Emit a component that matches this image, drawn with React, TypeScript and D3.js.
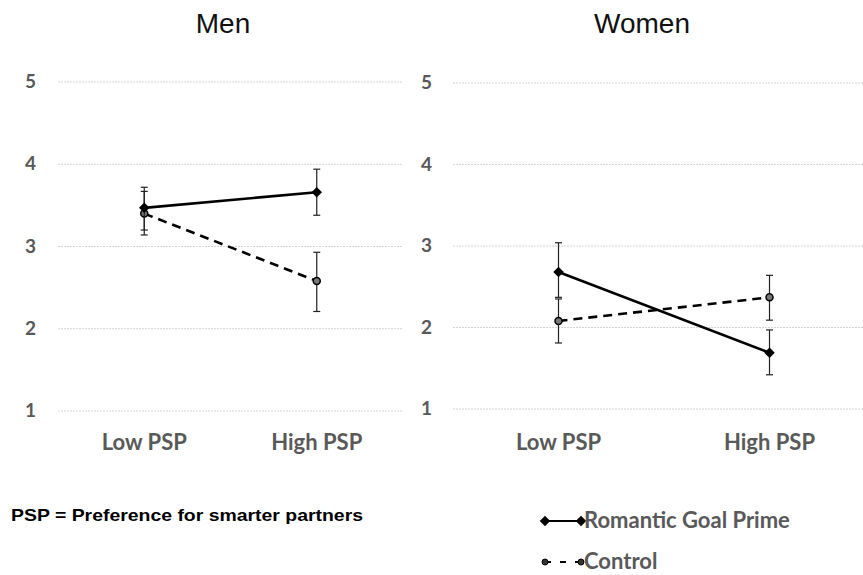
import { useEffect, useRef } from 'react';
import * as d3 from 'd3';

const categories = ['Low PSP', 'High PSP'];
const yTicks = [1, 2, 3, 4, 5];
const seriesNames = ['Romantic Goal Prime', 'Control'];

// men
const menRomantic = [3.47, 3.66];
const menRomanticLo = [3.2, 3.38];
const menRomanticHi = [3.72, 3.94];
const menControl = [3.4, 2.58];
const menControlLo = [3.14, 2.21];
const menControlHi = [3.67, 2.93];

// women
const womenRomantic = [2.68, 1.69];
const womenRomanticLo = [2.37, 1.42];
const womenRomanticHi = [3.04, 1.97];
const womenControl = [2.08, 2.37];
const womenControlLo = [1.81, 2.09];
const womenControlHi = [2.35, 2.64];

const W = 863;
const H = 575;
const GRAY = '#595959';
const LABEL_FONT = 'Lato, "Open Sans", sans-serif';

export default function App() {
  const svgRef = useRef<SVGSVGElement | null>(null);

  useEffect(() => {
    if (!svgRef.current) return;
    const svg = d3.select(svgRef.current);
    svg.selectAll('*').remove();

    const panels = [
      {
        title: 'Men', titleX: 223, gridX: [58, 403], tickX: 36, yRange: [411, 82],
        rom: menRomantic, romLo: menRomanticLo, romHi: menRomanticHi,
        ctl: menControl, ctlLo: menControlLo, ctlHi: menControlHi,
      },
      {
        title: 'Women', titleX: 642, gridX: [453, 875], tickX: 432, yRange: [409, 83],
        rom: womenRomantic, romLo: womenRomanticLo, romHi: womenRomanticHi,
        ctl: womenControl, ctlLo: womenControlLo, ctlHi: womenControlHi,
      },
    ];

    const diamond = d3.symbol().type(d3.symbolDiamond2).size(70);

    panels.forEach((p) => {
      const g = svg.append('g');
      const x = d3.scalePoint<string>().domain(categories).range(p.gridX as [number, number]).padding(0.5);
      const y = d3.scaleLinear().domain([1, 5]).range(p.yRange);

      g.append('text')
        .attr('x', p.titleX)
        .attr('y', 33)
        .attr('text-anchor', 'middle')
        .attr('font-family', 'Arial, "Liberation Sans", sans-serif')
        .attr('font-size', 28)
        .attr('fill', '#111')
        .text(p.title);

      // grid
      g.selectAll('line.grid')
        .data(yTicks)
        .enter()
        .append('line')
        .attr('x1', p.gridX[0])
        .attr('x2', p.gridX[1])
        .attr('y1', (d) => y(d))
        .attr('y2', (d) => y(d))
        .attr('stroke', '#d4d4d4')
        .attr('stroke-width', 1)
        .attr('stroke-dasharray', '2,1');

      g.selectAll('text.tick')
        .data(yTicks)
        .enter()
        .append('text')
        .attr('x', p.tickX)
        .attr('y', (d) => y(d) + 6)
        .attr('text-anchor', 'end')
        .attr('font-family', LABEL_FONT)
        .attr('font-weight', 700)
        .attr('font-size', 19)
        .attr('fill', GRAY)
        .text((d) => d);

      g.selectAll('text.cat')
        .data(categories)
        .enter()
        .append('text')
        .attr('x', (d) => x(d)!)
        .attr('y', 450)
        .attr('text-anchor', 'middle')
        .attr('font-family', LABEL_FONT)
        .attr('font-weight', 700)
        .attr('font-size', 22)
        .attr('fill', GRAY)
        .text((d) => d);

      const series = [
        { v: p.ctl, lo: p.ctlLo, hi: p.ctlHi, dash: '9,6', marker: 'circle' },
        { v: p.rom, lo: p.romLo, hi: p.romHi, dash: null, marker: 'diamond' },
      ];

      series.forEach((s) => {
        // error bars
        categories.forEach((c, i) => {
          const cx = x(c)!;
          g.append('line')
            .attr('x1', cx).attr('x2', cx)
            .attr('y1', y(s.lo[i])).attr('y2', y(s.hi[i]))
            .attr('stroke', '#222').attr('stroke-width', 1.2);
          [s.lo[i], s.hi[i]].forEach((v) => {
            g.append('line')
              .attr('x1', cx - 3.5).attr('x2', cx + 3.5)
              .attr('y1', y(v)).attr('y2', y(v))
              .attr('stroke', '#222').attr('stroke-width', 1.2);
          });
        });

        const line = d3.line<number>().x((_, i) => x(categories[i])!).y((d) => y(d));
        g.append('path')
          .attr('d', line(s.v)!)
          .attr('fill', 'none')
          .attr('stroke', '#000')
          .attr('stroke-width', 2.6)
          .attr('stroke-dasharray', s.dash);

        s.v.forEach((v, i) => {
          if (s.marker === 'diamond') {
            g.append('path')
              .attr('d', diamond()!)
              .attr('transform', `translate(${x(categories[i])},${y(v)})`)
              .attr('fill', '#000');
          } else {
            g.append('circle')
              .attr('cx', x(categories[i])!)
              .attr('cy', y(v))
              .attr('r', 3.5)
              .attr('fill', '#777')
              .attr('stroke', '#000')
              .attr('stroke-width', 1.5);
          }
        });
      });
    });

    // footnote
    svg.append('text')
      .attr('x', 11)
      .attr('y', 521)
      .attr('font-family', '"Liberation Sans", Arial, sans-serif')
      .attr('font-weight', 700)
      .attr('font-size', 17)
      .attr('textLength', 352)
      .attr('lengthAdjust', 'spacingAndGlyphs')
      .attr('fill', '#000')
      .text('PSP = Preference for smarter partners');

    // legend
    const legY = [521, 562];
    seriesNames.forEach((name, i) => {
      const ly = legY[i];
      const lg = svg.append('g');
      lg.append('line')
        .attr('x1', 545).attr('x2', 581)
        .attr('y1', ly).attr('y2', ly)
        .attr('stroke', '#000')
        .attr('stroke-width', 2.2)
        .attr('stroke-dasharray', i === 0 ? null : '6,9');
      [545, 581].forEach((mx) => {
        if (i === 0) {
          lg.append('path')
            .attr('d', diamond()!)
            .attr('transform', `translate(${mx},${ly})`)
            .attr('fill', '#000');
        } else {
          lg.append('circle')
            .attr('cx', mx).attr('cy', ly).attr('r', 3)
            .attr('fill', '#333').attr('stroke', '#000').attr('stroke-width', 1);
        }
      });
      lg.append('text')
        .attr('x', 584)
        .attr('y', ly + 7)
        .attr('font-family', LABEL_FONT)
        .attr('font-weight', 700)
        .attr('font-size', 22)
        .attr('fill', GRAY)
        .text(name);
    });
  }, []);

  return (
    <svg
      ref={svgRef}
      width={W}
      height={H}
      style={{ position: 'absolute', left: 0, top: 0, background: '#fff' }}
    />
  );
}
